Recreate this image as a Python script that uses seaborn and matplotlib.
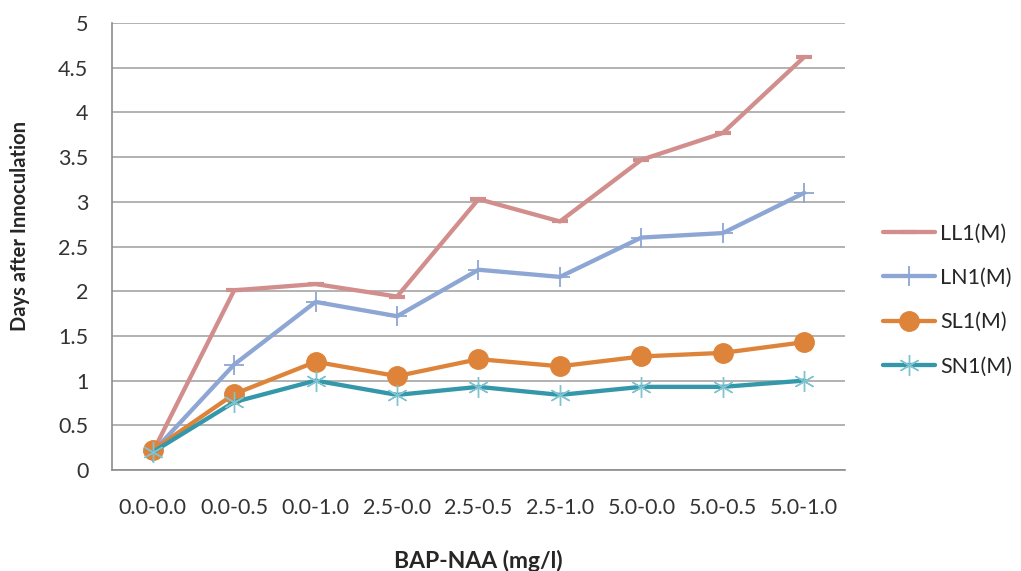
import matplotlib
matplotlib.use('Agg')
import matplotlib.pyplot as plt
from matplotlib.lines import Line2D
import numpy as np
import pandas as pd
import seaborn as sns

categories = ['0.0-0.0', '0.0-0.5', '0.0-1.0', '2.5-0.0', '2.5-0.5',
              '2.5-1.0', '5.0-0.0', '5.0-0.5', '5.0-1.0']
ll1 = [0.20, 2.01, 2.08, 1.94, 3.03, 2.78, 3.47, 3.77, 4.62]
ln1 = [0.20, 1.18, 1.88, 1.72, 2.24, 2.16, 2.60, 2.65, 3.10]
sl1 = [0.22, 0.85, 1.21, 1.05, 1.24, 1.16, 1.27, 1.31, 1.43]
sn1 = [0.20, 0.76, 1.00, 0.84, 0.93, 0.84, 0.93, 0.93, 1.00]
series_names = ['LL1(M)', 'LN1(M)', 'SL1(M)', 'SN1(M)']

df = pd.DataFrame({'BAP-NAA': categories, 'LL1(M)': ll1, 'LN1(M)': ln1,
                   'SL1(M)': sl1, 'SN1(M)': sn1})
long_df = df.melt(id_vars='BAP-NAA', var_name='series', value_name='days')

sns.set_style('white')
plt.rcParams['font.family'] = ['Lato', 'DejaVu Sans']

# style per series: colour, marker, marker size, marker edge width, marker edge colour
styles = {
    'LL1(M)': ('#D18E8C', '_', 12, 3, '#D18E8C'),
    'LN1(M)': ('#8DA6D3', '+', 15, 1.3, '#8DA6D3'),
    'SL1(M)': ('#DE843A', 'o', 14, 1, '#DE843A'),
    'SN1(M)': ('#3597AA', (6, 2, 0), 15, 1.0, '#7FC3D0'),
}

fig = plt.figure(figsize=(10.21, 5.71), dpi=100)
ax = fig.add_axes([0.1097, 0.1769, 0.7179, 0.7828])

x_pos = {c: i for i, c in enumerate(categories)}
long_df['pos'] = long_df['BAP-NAA'].map(x_pos)

handles = []
for name in series_names:
    color, marker, ms, mew, mec = styles[name]
    sub = long_df[long_df['series'] == name]
    sns.lineplot(data=sub, x='pos', y='days', ax=ax, color=color, linewidth=3.1,
                 marker=marker, markersize=ms, markeredgecolor=mec,
                 markeredgewidth=mew, markerfacecolor=color, zorder=3)
    handles.append(Line2D([0], [0], color=color, linewidth=3.1, marker=marker,
                          markersize=ms, markeredgecolor=mec,
                          markerfacecolor=color, markeredgewidth=mew))

tick_fs = 15.5
ax.set_xlim(-0.5, len(categories) - 0.5)
ax.set_ylim(0, 5)
yt = np.arange(0, 5.01, 0.5)
ax.set_yticks(yt)
ax.set_yticklabels(['%g' % v for v in yt], fontsize=tick_fs)
ax.set_xticks(np.arange(-0.5, len(categories), 1.0))
ax.set_xticklabels([])
ax.set_xticks(np.arange(len(categories)), minor=True)
ax.set_xticklabels(categories, minor=True, fontsize=tick_fs)
ax.tick_params(axis='x', which='major', length=6, color='#8C8C8C', width=1.2, direction='out')
ax.tick_params(axis='x', which='minor', length=0, pad=20, labelcolor='#333333')
ax.tick_params(axis='y', length=6, color='#8C8C8C', width=1.2, direction='out', pad=11,
               labelcolor='#333333')

ax.yaxis.grid(True, color='#A6A6A6', linewidth=1.2)
ax.xaxis.grid(False)
ax.set_axisbelow(True)
for s in ['top', 'right']:
    ax.spines[s].set_visible(False)
for s in ['left', 'bottom']:
    ax.spines[s].set_color('#8C8C8C')
    ax.spines[s].set_linewidth(1.2)

ax.set_xlabel('BAP-NAA (mg/l)', fontsize=16.5, fontweight='bold')
ax.xaxis.set_label_coords(0.5, (470 - 550) / 447.0)
ax.set_ylabel('Days after Innoculation', fontsize=14.5, fontweight='bold')
ax.yaxis.set_label_coords((30 - 112) / 733.0, (470 - 226) / 447.0)

leg = ax.legend(handles, series_names, loc='center left', bbox_to_anchor=(1.026, 0.38),
                frameon=False, fontsize=tick_fs, handlelength=2.4, handletextpad=0.25,
                labelspacing=1.13)

fig.savefig('out.png', dpi=100)
